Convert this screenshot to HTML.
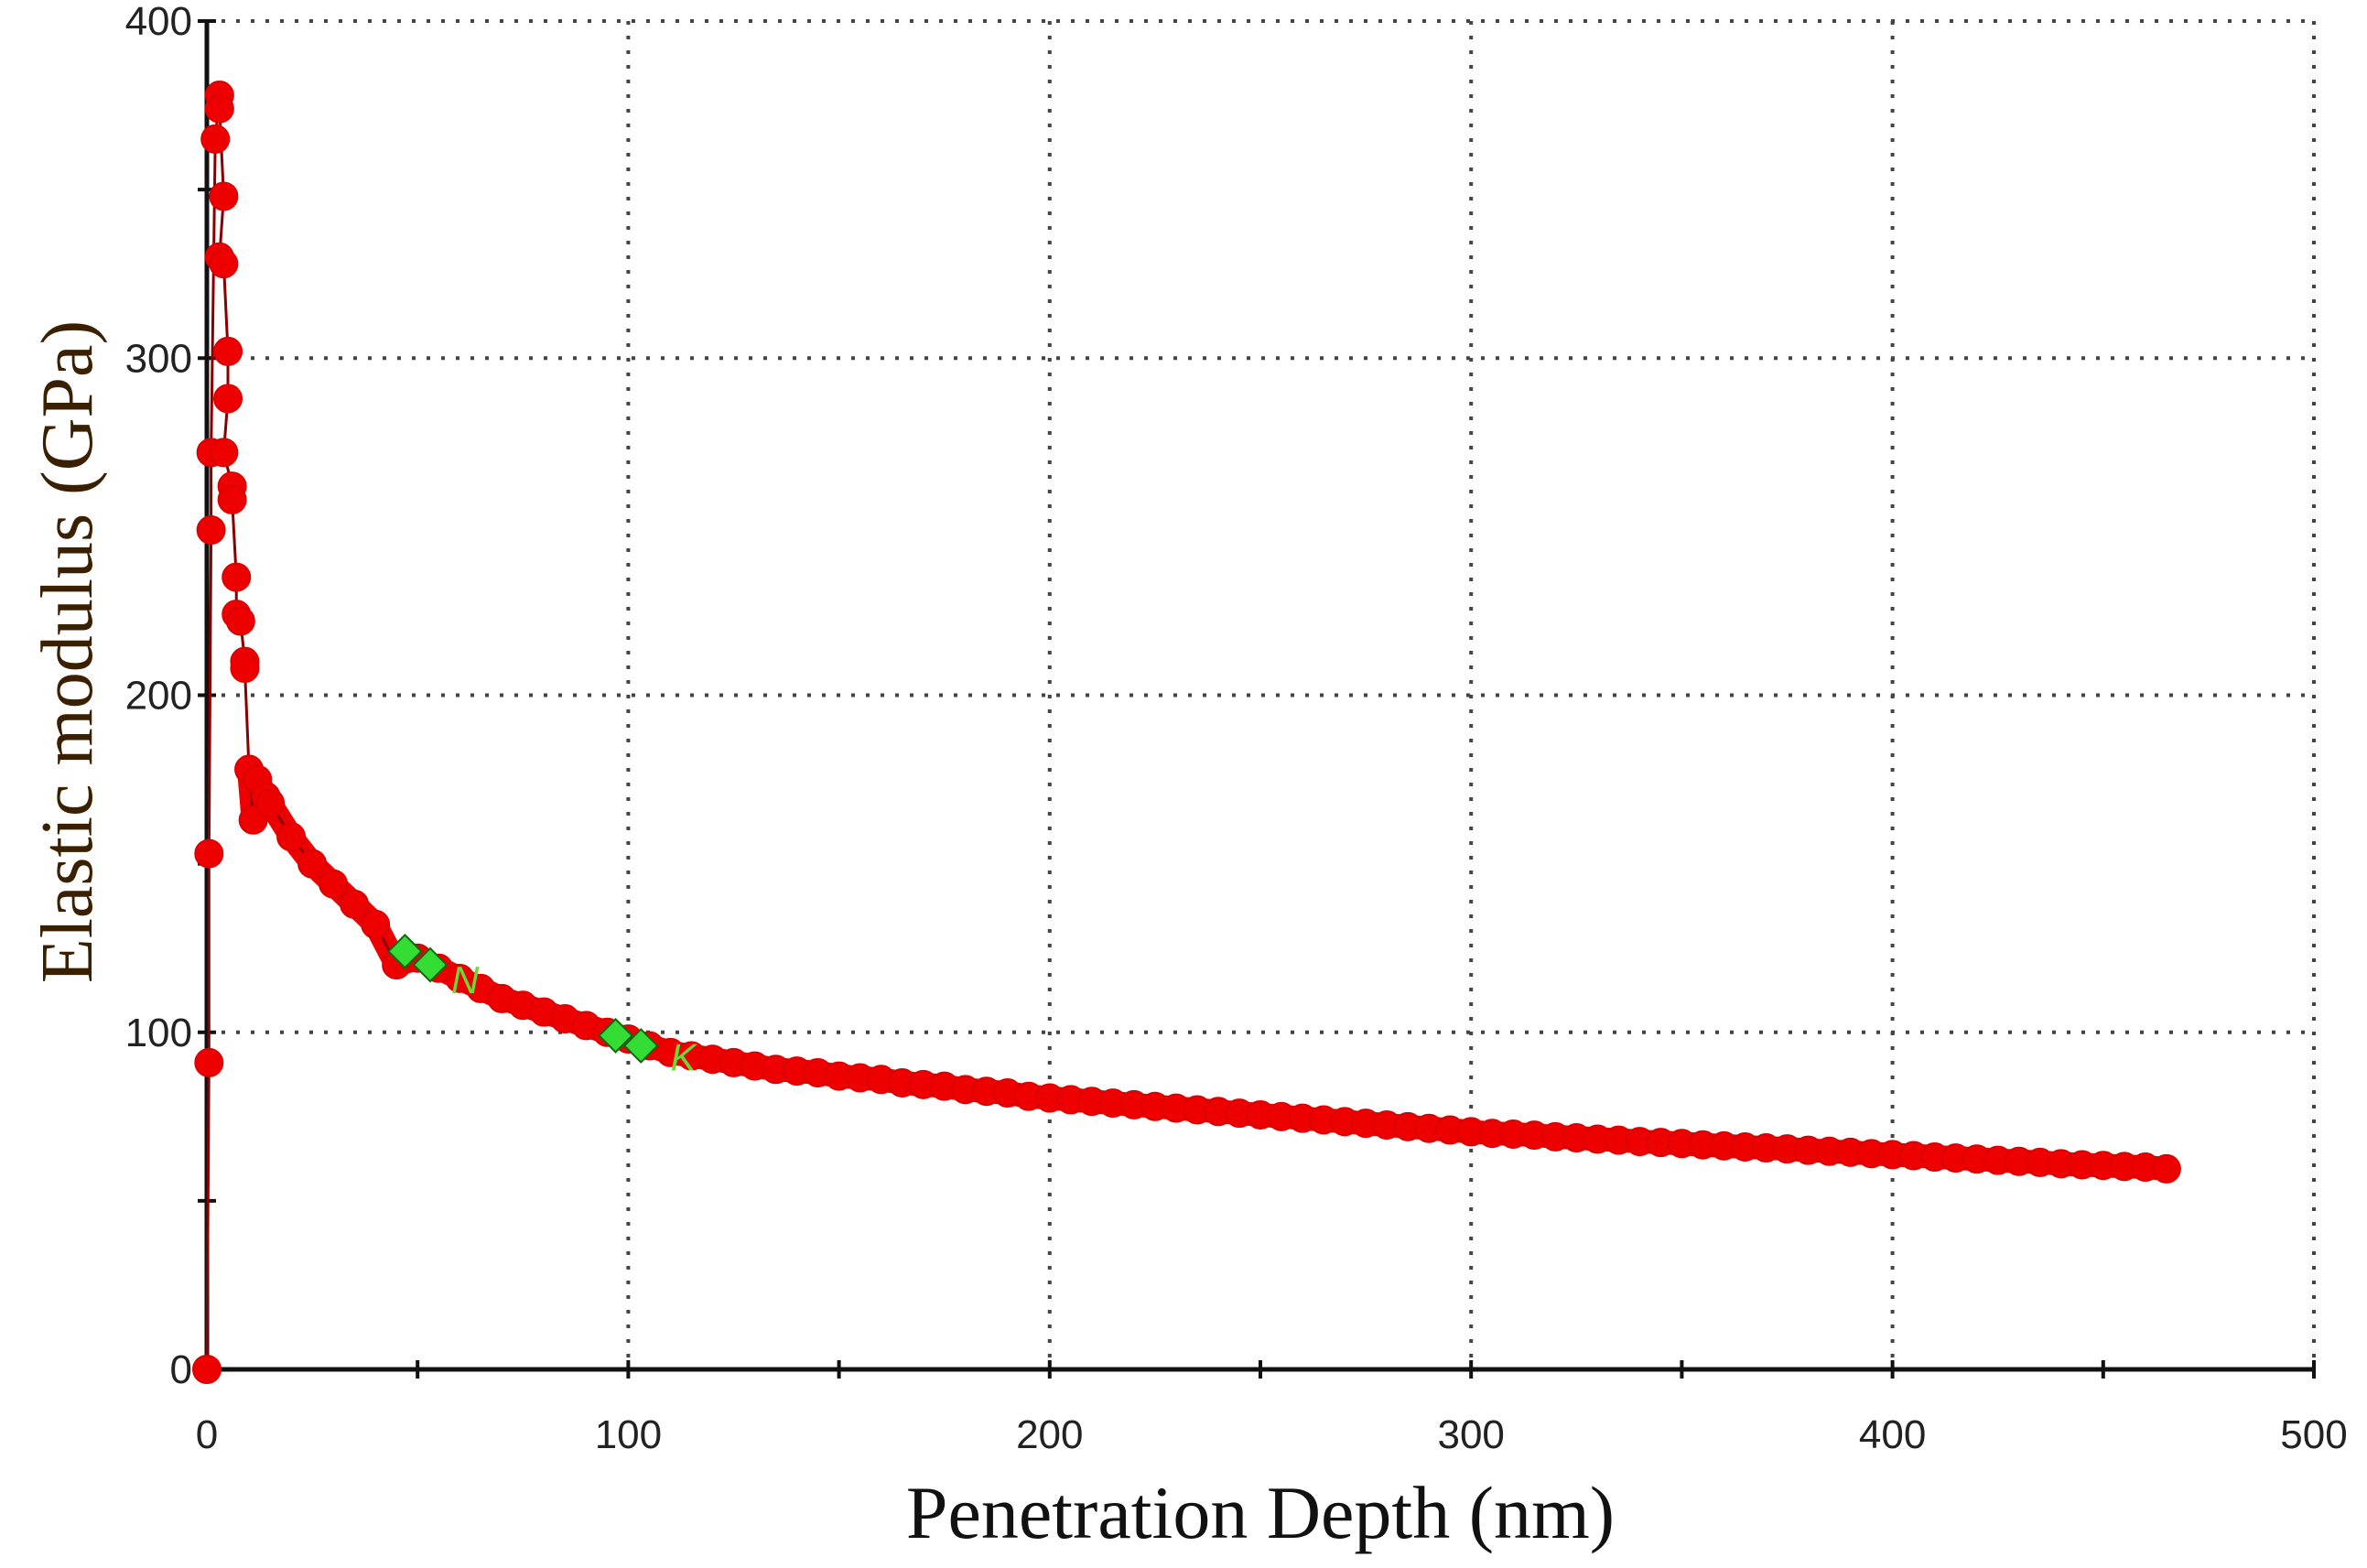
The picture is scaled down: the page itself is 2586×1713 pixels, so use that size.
<!DOCTYPE html>
<html><head><meta charset="utf-8"><style>
html,body{margin:0;padding:0;background:#fff;}
svg{display:block;}
</style></head><body>
<svg id="chart" width="2586" height="1713" viewBox="0 0 2586 1713" xmlns="http://www.w3.org/2000/svg">
<g id="grid"></g>
<g id="axes"></g>
<g id="series"></g>
<g id="markers"></g>
<text x="1377" y="1680" text-anchor="middle" font-family="'Liberation Serif', serif" font-size="82" fill="#111">Penetration Depth (nm)</text>
<text transform="translate(100,712) rotate(-90)" text-anchor="middle" font-family="'Liberation Serif', serif" font-size="80" fill="#3a2000">Elastic modulus (GPa)</text>
</svg>
<script>
const xTicks=[0,100,200,300,400,500];
const yTicks=[0,100,200,300,400];
const depth=[0,0.5,0.5,1,1,2,3,3,4,3,4,5,5,4,6,6,7,7,8,9,9,10,11,12,14,15,20,25,30,35,40,45,50,55,60,65,70,75,80,85,90,95,100,105,110,115,120,125,130,135,140,145,150,155,160,165,170,175,180,185,190,195,200,205,210,215,220,225,230,235,240,245,250,255,260,265,270,275,280,285,290,295,300,305,310,315,320,325,330,335,340,345,350,355,360,365,370,375,380,385,390,395,400,405,410,415,420,425,430,435,440,445,450,455,460,465];
const modulus=[0,91,153,249,272,365,378,374,348,330,328,302,288,272,262,258,235,224,222,210,208,178,163,175,170,168,158,150,144,138,132,120,122,119,116,113,110,108,106,104,102,100,98,96,94,93,92,91,90,89,88.5,88,87,86.5,86,85,84.5,84,83,82.5,82,81,80.5,80,79.5,79,78.5,78,77.5,77,76.5,76,75.5,75,74.5,74,73.5,73,72.5,72,71.5,71,70.5,70,69.8,69.5,69,68.7,68.3,68,67.6,67.3,67,66.6,66.3,66,65.7,65.4,65,64.7,64.4,64,63.7,63.4,63,62.7,62.4,62,61.7,61.4,61,60.7,60.5,60.2,60,59.5];
const selDepth=[47,53,97,103];
const selModulus=[124,120,99,96];
const selLabels=["N","K"];
const selLabelDepth=[58,110];
const selLabelModulus=[116,93];

const NS="http://www.w3.org/2000/svg";
const X0=226,X1=2528,Y0=1496,Y1=23;
const sx=v=>X0+(v/500)*(X1-X0);
const sy=v=>Y0-(v/400)*(Y0-Y1);
function mk(tag,attrs,parent){const e=document.createElementNS(NS,tag);for(const k in attrs)e.setAttribute(k,attrs[k]);parent.appendChild(e);return e;}
const grid=document.getElementById('grid'),axes=document.getElementById('axes'),ser=document.getElementById('series'),mks=document.getElementById('markers');
xTicks.forEach(t=>{if(t>0){const l=mk('line',{x1:sx(t),x2:sx(t),y1:Y1,y2:Y0,stroke:'#444','stroke-width':4,'stroke-dasharray':'4 12'},grid);

}
const tk=mk('line',{x1:sx(t),x2:sx(t),y1:Y0-10,y2:Y0+10,stroke:'#111','stroke-width':4},axes);


const tx=mk('text',{x:sx(t),y:1582,'text-anchor':'middle','font-family':"'Liberation Sans', sans-serif",'font-size':44,fill:'#222'},axes);
tx.textContent=t;

});
[50,150,250,350,450].forEach(t=>{const m=mk('line',{x1:sx(t),x2:sx(t),y1:Y0-10,y2:Y0+10,stroke:'#111','stroke-width':4},axes);

});
yTicks.forEach(t=>{if(t>0){const l=mk('line',{x1:X0,x2:X1,y1:sy(t),y2:sy(t),stroke:'#444','stroke-width':4,'stroke-dasharray':'4 12'},grid);

}
const tk=mk('line',{x1:X0-10,x2:X0+10,y1:sy(t),y2:sy(t),stroke:'#111','stroke-width':4},axes);


const tx=mk('text',{x:210,y:sy(t)+15,'text-anchor':'end','font-family':"'Liberation Sans', sans-serif",'font-size':44,fill:'#222'},axes);
tx.textContent=t;

});
[50,150,250,350].forEach(t=>{const m=mk('line',{x1:X0-10,x2:X0+10,y1:sy(t),y2:sy(t),stroke:'#111','stroke-width':4},axes);

});
const ax=mk('line',{x1:X0,x2:X1,y1:Y0,y2:Y0,stroke:'#111','stroke-width':5},axes);


const ay=mk('line',{x1:X0,x2:X0,y1:Y1,y2:Y0,stroke:'#111','stroke-width':5},axes);


const pts=depth.map((d,i)=>sx(d)+','+sy(modulus[i])).join(' ');
const tailPts=depth.map((d,i)=>i>=21?sx(d)+','+sy(modulus[i]):null).filter(p=>p).join(' ');
const band=mk('polyline',{points:tailPts,fill:'none',stroke:'#ee0000','stroke-width':26,'stroke-linejoin':'round','stroke-linecap':'round'},ser);


const pl=mk('polyline',{points:pts,fill:'none',stroke:'#8a0000','stroke-width':3},ser);


depth.forEach((d,i)=>{const c=mk('circle',{cx:sx(d),cy:sy(modulus[i]),r:15,fill:'#ee0000',stroke:'#dd0000','stroke-width':2},ser);

});
selDepth.forEach((d,i)=>{const x=sx(d),y=sy(selModulus[i]),r=18;
const p=mk('polygon',{points:`${x},${y-r} ${x+r},${y} ${x},${y+r} ${x-r},${y}`,fill:'#33dd33',stroke:'#116611','stroke-width':2},mks);

});
selLabels.forEach((s,i)=>{const t=mk('text',{x:sx(selLabelDepth[i]),y:sy(selLabelModulus[i])+16,'font-family':"'Liberation Sans', sans-serif",'font-size':42,'font-style':'italic',fill:'#66dd33'},mks);
t.textContent=s;

});
</script>
</body></html>
